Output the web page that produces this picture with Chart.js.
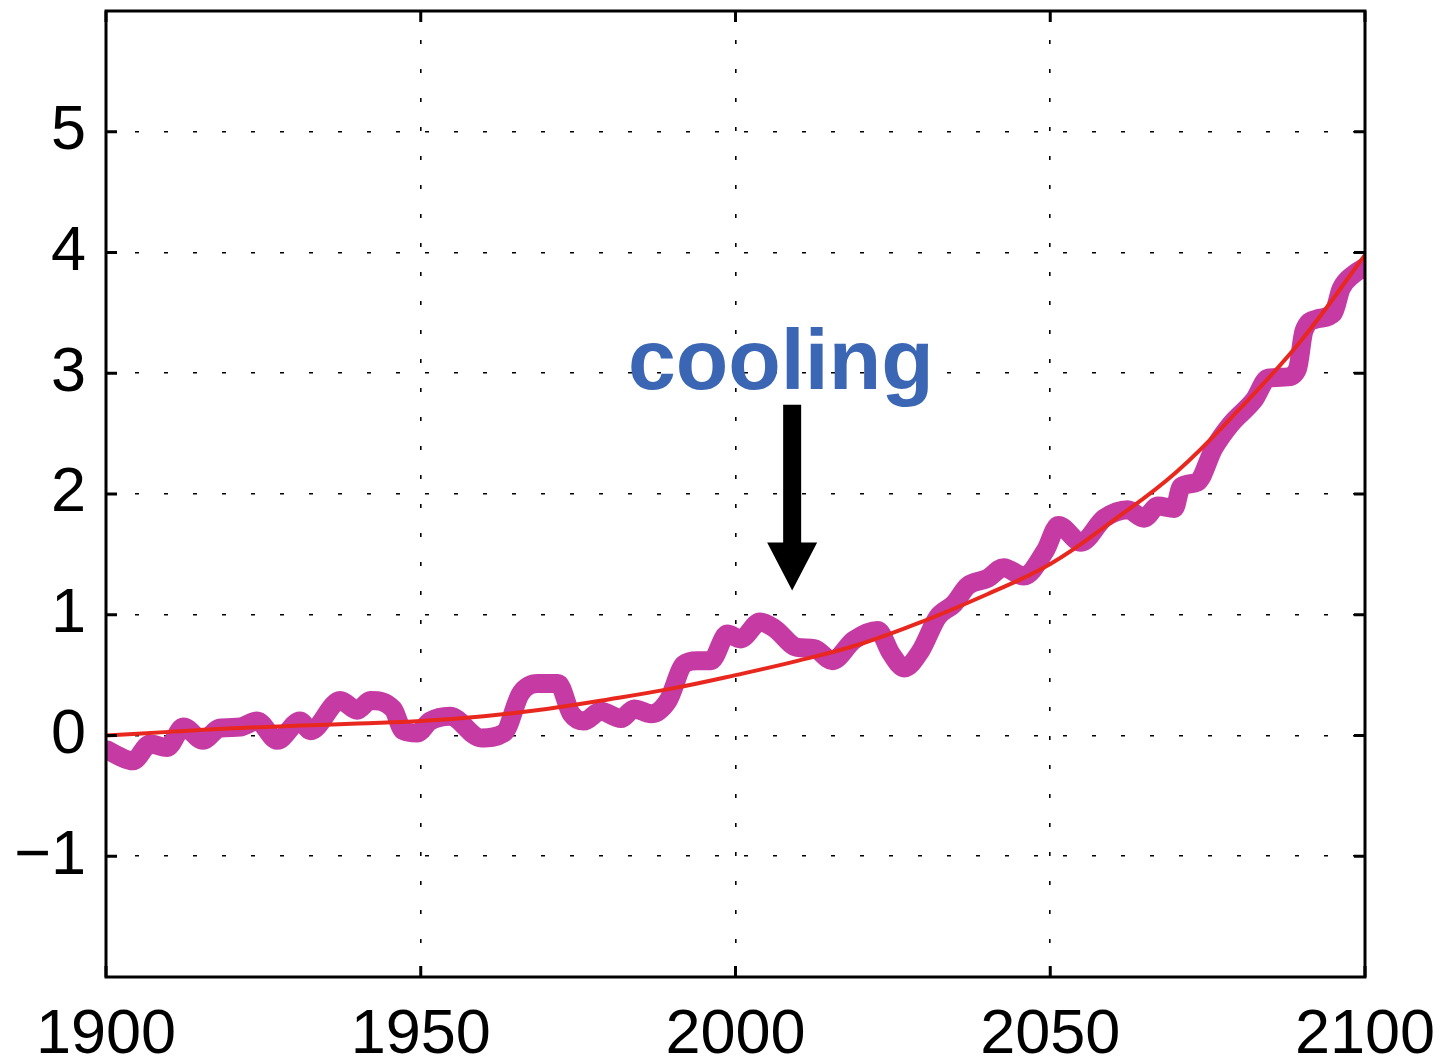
<!DOCTYPE html>
<html>
<head>
<meta charset="utf-8">
<title>Temperature projection 1900–2100</title>
<script src="https://cdn.jsdelivr.net/npm/chart.js@4.4.1/dist/chart.umd.min.js"></script>
<style>
  html, body { margin: 0; padding: 0; background: #ffffff; }
  #wrap { width: 1443px; height: 1064px; position: relative; }
</style>
</head>
<body>
<div id="wrap"><canvas id="c" width="1443" height="1064"></canvas></div>
<script>
// Smooth trend curve (thin red line)
const trendYears  = [1900, 1910, 1920, 1930, 1940, 1950, 1960, 1970, 1980, 1990, 2000, 2010, 2020, 2030, 2040, 2050, 2060, 2070, 2080, 2090, 2100];
const trendValues = [0.00, 0.03, 0.06, 0.08, 0.10, 0.12, 0.16, 0.22, 0.30, 0.39, 0.50, 0.62, 0.76, 0.95, 1.17, 1.42, 1.78, 2.18, 2.70, 3.28, 3.98];

// Simulated record with natural variability (thick magenta line)
const recordYears = [
  1900.2, 1902.0, 1904.3, 1907.0, 1909.7, 1912.3, 1915.4, 1918.0, 1921.3, 1924.0,
  1927.2, 1930.8, 1932.5, 1937.2, 1939.9, 1942.0, 1945.6, 1947.2, 1949.4, 1951.5,
  1954.6, 1959.6, 1963.2, 1965.9, 1968.6, 1971.8, 1973.9, 1975.9, 1978.6, 1981.8,
  1983.9, 1986.6, 1989.3, 1991.8, 1993.9, 1996.1, 1998.7, 2000.8, 2003.9, 2006.1,
  2009.8, 2012.5, 2015.4, 2018.8, 2022.6, 2024.7, 2026.8, 2029.4, 2032.1, 2034.7,
  2036.9, 2040.0, 2042.6, 2045.8, 2049.2, 2051.3, 2054.9, 2058.6, 2062.3, 2064.9,
  2067.1, 2069.7, 2070.8, 2073.4, 2076.0, 2078.7, 2082.4, 2084.6, 2087.7, 2089.3,
  2090.3, 2092.4, 2095.0, 2096.2, 2098.2, 2100.0
];
const recordValues = [
  -0.12, -0.17, -0.21, -0.07, -0.10, 0.07, -0.04, 0.06, 0.07, 0.12,
  -0.04, 0.12, 0.04, 0.29, 0.21, 0.29, 0.22, 0.04, 0.02, 0.12,
  0.16, -0.02, 0.02, 0.35, 0.43, 0.43, 0.18, 0.12, 0.20, 0.14,
  0.22, 0.18, 0.29, 0.59, 0.62, 0.62, 0.84, 0.80, 0.94, 0.89,
  0.73, 0.72, 0.62, 0.79, 0.87, 0.68, 0.56, 0.70, 0.98, 1.09,
  1.24, 1.30, 1.39, 1.32, 1.53, 1.74, 1.60, 1.80, 1.87, 1.80,
  1.90, 1.88, 2.06, 2.10, 2.38, 2.58, 2.78, 2.96, 2.97, 3.04,
  3.35, 3.45, 3.50, 3.70, 3.82, 3.88
];

// Axis ranges and tick labels
const xTickLabels = [1900, 1950, 2000, 2050, 2100];
const yTickLabels = [-1, 0, 1, 2, 3, 4, 5];
const xRange = [1900, 2100];
const yRange = [-2, 6];

// Annotation: label and arrow (in data coordinates)
const noteText = 'cooling';
const noteTextAt = { x: 2007.2, y: 2.87 };
const noteArrow = { x: 2009.0, yFrom: 2.74, yTo: 1.20 };

const trendPoints = trendYears.map((t, i) => ({ x: t, y: trendValues[i] }));
const recordPoints = recordYears.map((t, i) => ({ x: t, y: recordValues[i] }));

const FONT = "'Liberation Sans', Arial, Helvetica, sans-serif";

// Box frame with inward tick marks on all four sides
const framePlugin = {
  id: 'frame',
  afterDatasetsDraw(chart) {
    const { ctx, chartArea: a, scales: { x, y } } = chart;
    ctx.save();
    ctx.strokeStyle = '#000';
    ctx.lineWidth = 3;
    ctx.setLineDash([]);
    const tick = 11;
    ctx.beginPath();
    xTickLabels.forEach(v => {
      const px = x.getPixelForValue(v);
      ctx.moveTo(px, a.bottom); ctx.lineTo(px, a.bottom - tick);
      ctx.moveTo(px, a.top); ctx.lineTo(px, a.top + tick);
    });
    yTickLabels.forEach(v => {
      const py = y.getPixelForValue(v);
      ctx.moveTo(a.left, py); ctx.lineTo(a.left + tick, py);
      ctx.moveTo(a.right, py); ctx.lineTo(a.right - tick, py);
    });
    ctx.stroke();
    ctx.strokeRect(a.left, a.top, a.right - a.left, a.bottom - a.top);
    ctx.restore();
  }
};

// "cooling" label with a downward arrow
const notePlugin = {
  id: 'note',
  afterDraw(chart) {
    const { ctx, scales: { x, y } } = chart;
    ctx.save();
    ctx.fillStyle = '#3b66b4';
    ctx.font = "bold 86px " + FONT;
    ctx.textAlign = 'center';
    ctx.textBaseline = 'alphabetic';
    ctx.fillText(noteText, x.getPixelForValue(noteTextAt.x), y.getPixelForValue(noteTextAt.y));

    const ax = x.getPixelForValue(noteArrow.x);
    const y0 = y.getPixelForValue(noteArrow.yFrom);
    const y1 = y.getPixelForValue(noteArrow.yTo);
    const headLen = 48, headHalf = 25, shaftHalf = 9;
    ctx.fillStyle = '#000';
    ctx.beginPath();
    ctx.moveTo(ax - shaftHalf, y0);
    ctx.lineTo(ax + shaftHalf, y0);
    ctx.lineTo(ax + shaftHalf, y1 - headLen);
    ctx.lineTo(ax + headHalf, y1 - headLen);
    ctx.lineTo(ax, y1);
    ctx.lineTo(ax - headHalf, y1 - headLen);
    ctx.lineTo(ax - shaftHalf, y1 - headLen);
    ctx.closePath();
    ctx.fill();
    ctx.restore();
  }
};

new Chart(document.getElementById('c'), {
  type: 'line',
  data: {
    datasets: [
      {
        label: 'trend',
        data: trendPoints,
        borderColor: '#e8281f',
        borderWidth: 4,
        pointRadius: 0,
        tension: 0.4,
        fill: false,
        clip: 0
      },
      {
        label: 'record',
        data: recordPoints,
        borderColor: '#c53ba3',
        borderWidth: 19,
        borderCapStyle: 'round',
        borderJoinStyle: 'round',
        pointRadius: 0,
        tension: 0.4,
        cubicInterpolationMode: 'monotone',
        fill: false,
        clip: 0
      }
    ]
  },
  options: {
    responsive: false,
    animation: false,
    devicePixelRatio: 1,
    layout: { padding: { top: 11, right: 78, left: 0, bottom: 0 } },
    plugins: { legend: { display: false }, tooltip: { enabled: false } },
    scales: {
      x: {
        type: 'linear',
        min: xRange[0],
        max: xRange[1],
        afterFit(s) { s.height = 87; s.paddingLeft = 0; s.paddingRight = 0; },
        afterBuildTicks(s) { s.ticks = xTickLabels.map(v => ({ value: v })); },
        ticks: {
          color: '#000',
          font: { size: 63, family: FONT },
          padding: 21,
          maxRotation: 0,
          autoSkip: false,
          callback: v => String(v)
        },
        grid: { drawTicks: false, color: '#000', lineWidth: 1.6 },
        border: { display: false, dash: [4, 25] }
      },
      y: {
        type: 'linear',
        min: yRange[0],
        max: yRange[1],
        afterFit(s) { s.width = 106; s.paddingTop = 0; s.paddingBottom = 0; },
        afterBuildTicks(s) { s.ticks = yTickLabels.map(v => ({ value: v })); },
        ticks: {
          color: '#000',
          font: { size: 63, family: FONT },
          padding: 20,
          callback: v => (v < 0 ? '\u2212' + Math.abs(v) : String(v))
        },
        grid: { drawTicks: false, color: '#000', lineWidth: 1.6 },
        border: { display: false, dash: [4, 25] }
      }
    }
  },
  plugins: [framePlugin, notePlugin]
});
</script>
</body>
</html>
